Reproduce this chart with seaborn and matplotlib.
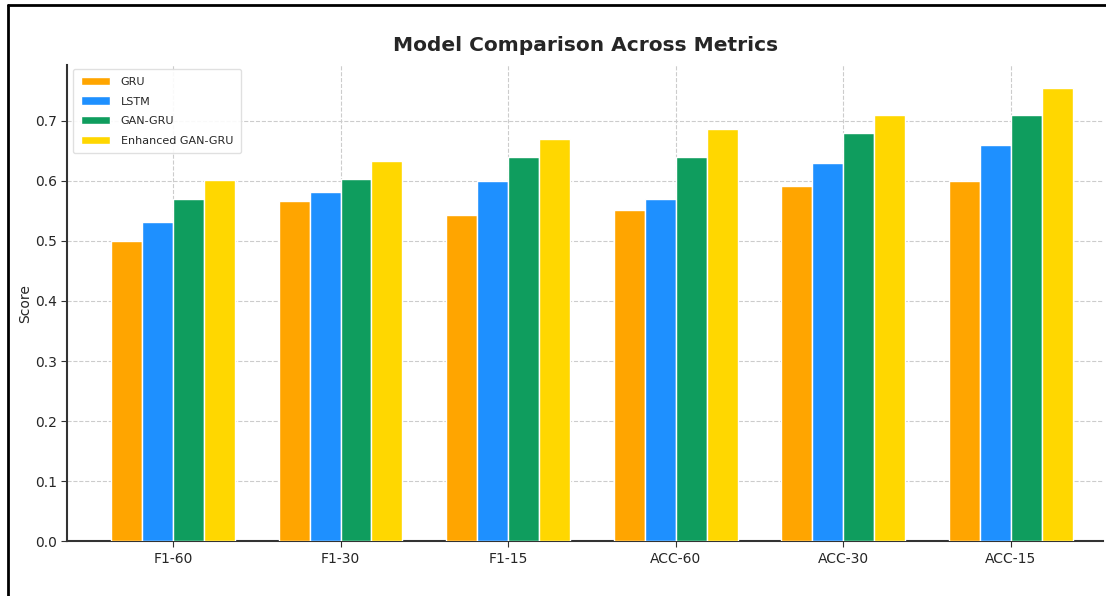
import matplotlib
matplotlib.use("Agg")
import matplotlib.pyplot as plt
import seaborn as sns
import pandas as pd
from matplotlib.lines import Line2D

metrics = ["F1-60", "F1-30", "F1-15", "ACC-60", "ACC-30", "ACC-15"]
models = ["GRU", "LSTM", "GAN-GRU", "Enhanced GAN-GRU"]
gru = [0.50, 0.567, 0.543, 0.552, 0.591, 0.60]
lstm = [0.532, 0.581, 0.60, 0.57, 0.63, 0.66]
gan_gru = [0.57, 0.603, 0.64, 0.64, 0.68, 0.71]
enh_gan_gru = [0.601, 0.633, 0.669, 0.687, 0.71, 0.755]
colors = ["#FFA500", "#1E90FF", "#0F9D5E", "#FFD700"]

rows = []
for name, vals in zip(models, [gru, lstm, gan_gru, enh_gan_gru]):
    for m, v in zip(metrics, vals):
        rows.append({"Metric": m, "Model": name, "Score": v})
df = pd.DataFrame(rows)

sns.set_style("white")
fig = plt.figure(figsize=(11.06, 5.96), dpi=100)
ax = fig.add_axes([0.061, 0.092, 0.936, 0.799])

sns.barplot(data=df, x="Metric", y="Score", hue="Model", hue_order=models,
            palette=colors, width=0.74, edgecolor="white", linewidth=1.0,
            saturation=1, ax=ax, zorder=3)

ax.set_xlim(-0.63, 5.55)
ax.set_ylim(0, 0.793)
ax.set_yticks([0.0, 0.1, 0.2, 0.3, 0.4, 0.5, 0.6, 0.7])
ax.grid(True, linestyle="--", color="#cccccc", linewidth=0.8, zorder=0)
ax.set_axisbelow(True)
for s in ["top", "right"]:
    ax.spines[s].set_visible(False)
for s in ["left", "bottom"]:
    ax.spines[s].set_color("#333333")
    ax.spines[s].set_linewidth(1.5)
ax.tick_params(axis="both", labelsize=10, length=4, color="#333333", left=True, bottom=True)
ax.set_xlabel("")
ax.set_ylabel("Score", fontsize=10, labelpad=2)
ax.set_title("Model Comparison Across Metrics", fontsize=14.5, fontweight="bold", pad=10)
leg = ax.legend(loc="upper left", fontsize=8, frameon=True, framealpha=0.9,
                edgecolor="#dddddd", handlelength=2.6, handleheight=0.8,
                labelspacing=0.85, borderpad=0.7, handletextpad=1.0,
                bbox_to_anchor=(0.0, 1.003))

# outer frame (top and left edges visible in the reference)
fig.add_artist(Line2D([8/1106, 1.0], [1 - 5/596, 1 - 5/596], transform=fig.transFigure,
                      color="black", linewidth=2))
fig.add_artist(Line2D([8/1106, 8/1106], [0.0, 1 - 5/596], transform=fig.transFigure,
                      color="black", linewidth=2))

fig.savefig("out.png", dpi=100)
